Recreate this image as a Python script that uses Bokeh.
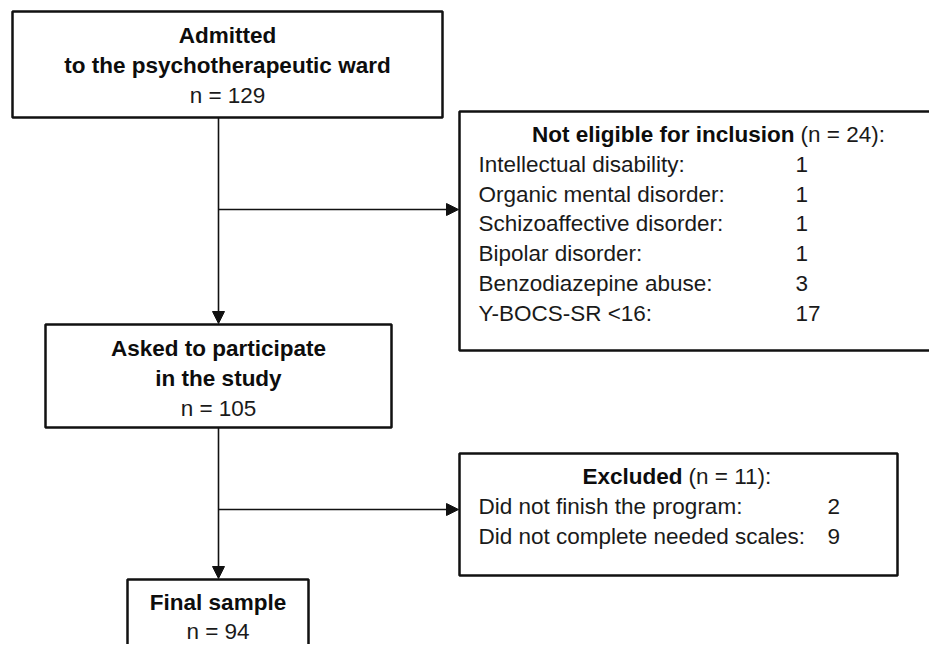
from bokeh.plotting import figure
from bokeh.models import Range1d, Arrow, NormalHead
from bokeh.core.properties import value
from bokeh.embed import file_html
from bokeh.resources import INLINE

# ---------------- data ----------------
stage_titles = [
    ["Admitted", "to the psychotherapeutic ward"],
    ["Asked to participate", "in the study"],
    ["Final sample"],
]
stage_counts = [129, 105, 94]

noneligible_title = "Not eligible for inclusion"
noneligible_total = 24
noneligible_reasons = [
    "Intellectual disability:",
    "Organic mental disorder:",
    "Schizoaffective disorder:",
    "Bipolar disorder:",
    "Benzodiazepine abuse:",
    "Y-BOCS-SR <16:",
]
noneligible_counts = [1, 1, 1, 1, 3, 17]

excluded_title = "Excluded"
excluded_total = 11
excluded_reasons = [
    "Did not finish the program:",
    "Did not complete needed scales:",
]
excluded_counts = [2, 9]

# ---------------- layout (pixel space of the 945x660 page) ----------------
FONT = value("Liberation Sans")
FS = "22.5px"
LH = 29.8

stage_boxes = [  # left, right, top, bottom
    (12, 442, 11, 117),
    (45, 391, 324, 427),
    (127, 308, 579, 720),
]
stage_first_center = [35, 348, 602]
stage_line_h = [LH, LH, 29.0]
side_boxes = [
    (459, 980, 111, 350),
    (459, 897, 453, 575),
]
side_title_center = [134, 476]
side_title_split = [794, 682]
side_label_x = 478
side_num_x = [795, 827]
spine_x = 218
branch_y = [209, 509]

p = figure(width=929, height=644, output_backend="svg", toolbar_location=None,
           x_range=Range1d(0, 929), y_range=Range1d(644, 0),
           min_border=0, background_fill_color="white", border_fill_color="white")
p.axis.visible = False
p.grid.visible = False
p.outline_line_color = None

# boxes
all_boxes = stage_boxes + side_boxes
p.quad(left=[b[0] for b in all_boxes], right=[b[1] for b in all_boxes],
       top=[b[2] for b in all_boxes], bottom=[b[3] for b in all_boxes],
       fill_color="white", line_color="#111111", line_width=2.5)

# connectors
for i in range(2):
    y0 = stage_boxes[i][3]
    y1 = stage_boxes[i + 1][2] - 1
    p.add_layout(Arrow(end=NormalHead(size=12, fill_color="#111111", line_color="#111111", line_width=1),
                       x_start=spine_x, y_start=y0, x_end=spine_x, y_end=y1,
                       line_width=1.6, line_color="#111111"))
    p.add_layout(Arrow(end=NormalHead(size=12, fill_color="#111111", line_color="#111111", line_width=1),
                       x_start=spine_x, y_start=branch_y[i], x_end=side_boxes[i][0] - 1, y_end=branch_y[i],
                       line_width=1.6, line_color="#111111"))

# stage texts
bx, by, bt = [], [], []
nx, ny, nt = [], [], []
for i, lines in enumerate(stage_titles):
    cx = (stage_boxes[i][0] + stage_boxes[i][1]) / 2
    for j, ln in enumerate(lines):
        bx.append(cx); by.append(stage_first_center[i] + j * stage_line_h[i]); bt.append(ln)
    nx.append(cx); ny.append(stage_first_center[i] + len(lines) * stage_line_h[i])
    nt.append(f"n = {stage_counts[i]}")

p.text(x=bx, y=by, text=bt, text_font=FONT, text_font_size=FS, text_font_style="bold",
       text_align="center", text_baseline="middle", text_color="#0d0d0d")
p.text(x=nx, y=ny, text=nt, text_font=FONT, text_font_size=FS,
       text_align="center", text_baseline="middle", text_color="#1a1a1a")

# side boxes
side_sets = [
    (noneligible_title, noneligible_total, noneligible_reasons, noneligible_counts),
    (excluded_title, excluded_total, excluded_reasons, excluded_counts),
]
tbx, tby, tbt, tnx, tny, tnt = [], [], [], [], [], []
lx, ly, lt, cx_, cy_, ct_ = [], [], [], [], [], []
for i, (title, total, reasons, counts) in enumerate(side_sets):
    yc = side_title_center[i]
    tbx.append(side_title_split[i]); tby.append(yc); tbt.append(title)
    tnx.append(side_title_split[i] + 6); tny.append(yc); tnt.append(f"(n = {total}):")
    for k, (r, c) in enumerate(zip(reasons, counts)):
        y = yc + (k + 1) * LH
        lx.append(side_label_x); ly.append(y); lt.append(r)
        cx_.append(side_num_x[i]); cy_.append(y); ct_.append(str(c))

p.text(x=tbx, y=tby, text=tbt, text_font=FONT, text_font_size=FS, text_font_style="bold",
       text_align="right", text_baseline="middle", text_color="#0d0d0d")
p.text(x=tnx, y=tny, text=tnt, text_font=FONT, text_font_size=FS,
       text_align="left", text_baseline="middle", text_color="#1a1a1a")
p.text(x=lx, y=ly, text=lt, text_font=FONT, text_font_size=FS,
       text_align="left", text_baseline="middle", text_color="#1a1a1a")
p.text(x=cx_, y=cy_, text=ct_, text_font=FONT, text_font_size=FS,
       text_align="left", text_baseline="middle", text_color="#1a1a1a")

open("out.html", "w").write(file_html(p, INLINE))
